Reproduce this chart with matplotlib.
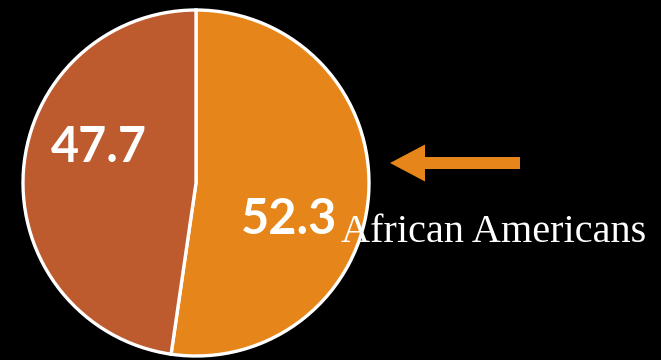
import matplotlib.pyplot as plt
from matplotlib.patches import FancyArrow

# 数据
labels = ['African Americans', 'Others']
values = [52.3, 47.7]
colors = ['#E6861A', '#BD5A2E']

fig = plt.figure(figsize=(6.61, 3.6), dpi=100, facecolor='black')
ax = fig.add_axes([0, 0, 1, 1])
ax.set_facecolor('black')

# 饼图，从正上方顺时针
ax.pie(values, colors=colors, startangle=90, counterclock=False,
       center=(196, 177), radius=173, frame=True,
       wedgeprops=dict(edgecolor='white', linewidth=2.4))
ax.set_xlim(0, 661)
ax.set_ylim(0, 360)
ax.set_aspect('equal')
ax.axis('off')

# 数值标签
ax.text(289, 140, '{:.1f}'.format(values[0]), color='white', fontsize=35,
        fontweight='bold', family='Lato', ha='center', va='center')
ax.text(99, 212, '{:.1f}'.format(values[1]), color='white', fontsize=35,
        fontweight='bold', family='Lato', ha='center', va='center')

# 箭头和文字
ax.add_patch(FancyArrow(520, 197, -130, 0, width=12, head_width=37,
                        head_length=35, length_includes_head=True,
                        color=colors[0], linewidth=0))
ax.text(341, 118, labels[0], color='white', fontsize=29,
        family='Liberation Serif', ha='left', va='baseline')

plt.savefig('out.png', dpi=100, facecolor='black')
